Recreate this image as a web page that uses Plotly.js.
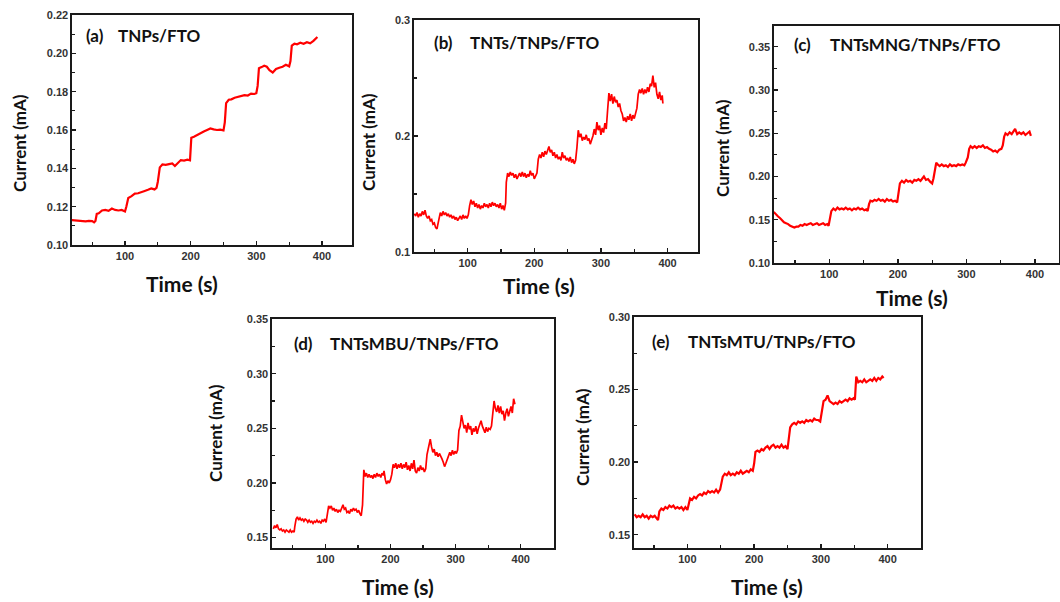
<!DOCTYPE html>
<html>
<head>
<meta charset="utf-8">
<script src="https://cdn.plot.ly/plotly-3.0.1.min.js"></script>
<style>html,body{margin:0;padding:0;background:#fff;}#chart{width:1060px;height:602px;}</style>
</head>
<body>
<div id="chart"></div>
<script>
// ---- Panel (a) TNPs/FTO ----
const tA = [19,25,30,35,40,45,50,53,55,57,60,65,70,75,80,85,90,95,100,102,105,110,115,120,125,130,135,140,145,148,150,153,157,162,167,172,176,180,185,190,195,199,201,205,210,215,220,225,230,235,240,245,250,252,254,258,262,267,272,277,282,287,292,297,300,302,304,308,312,316,320,325,330,335,340,345,350,352,354,358,362,367,372,377,382,387,390,393];
const iA = [0.1130,0.1128,0.1124,0.1126,0.1123,0.1126,0.1125,0.1118,0.1125,0.1162,0.1165,0.1180,0.1183,0.1178,0.1190,0.1183,0.1180,0.1183,0.1175,0.1200,0.1245,0.1255,0.1268,0.1270,0.1278,0.1282,0.1288,0.1295,0.1290,0.1298,0.1330,0.1405,0.1420,0.1418,0.1422,0.1425,0.1412,0.1428,0.1443,0.1440,0.1445,0.1442,0.1560,0.1565,0.1575,0.1585,0.1592,0.1600,0.1608,0.1603,0.1600,0.1602,0.1598,0.1640,0.1740,0.1758,0.1760,0.1768,0.1772,0.1775,0.1782,0.1780,0.1790,0.1788,0.1792,0.1830,0.1922,0.1928,0.1935,0.1930,0.1912,0.1900,0.1918,0.1925,0.1930,0.1940,0.1932,0.1960,0.2040,0.2050,0.2047,0.2055,0.2050,0.2058,0.2052,0.2065,0.2078,0.2085];

// ---- Panel (b) TNTs/TNPs/FTO ----
const tB = [20,22,24,26,28,30,32,34,36,38,40,42,44,46,48,50,52,54,55,57,59,61,63,65,67,69,71,73,75,77,79,81,83,85,87,89,91,93,95,97,99,101,103,105,107,109,111,113,115,117,119,121,123,125,127,129,131,133,135,137,139,141,143,145,147,149,151,153,155,157,158,160,162,164,166,168,170,172,174,176,178,180,182,184,186,188,190,192,194,196,198,200,202,204,206,208,210,212,214,216,218,220,222,224,226,228,230,232,234,236,238,240,242,244,246,248,250,252,254,256,258,260,262,264,266,268,270,272,274,276,278,280,282,284,286,288,290,292,294,296,298,300,302,304,306,308,310,312,314,316,318,320,322,324,326,328,330,332,334,336,338,340,342,344,346,348,350,352,354,356,358,360,362,364,366,368,370,372,374,376,378,380,382,384,386,388,390,392,393];
const iB = [0.133,0.131,0.134,0.130,0.133,0.131,0.135,0.132,0.136,0.131,0.129,0.131,0.127,0.128,0.124,0.125,0.121,0.120,0.123,0.128,0.134,0.131,0.135,0.132,0.134,0.131,0.133,0.130,0.132,0.129,0.131,0.128,0.130,0.127,0.129,0.131,0.128,0.132,0.129,0.131,0.129,0.132,0.140,0.145,0.141,0.144,0.139,0.142,0.138,0.141,0.137,0.140,0.138,0.142,0.139,0.141,0.138,0.142,0.139,0.143,0.140,0.142,0.139,0.141,0.138,0.142,0.137,0.140,0.136,0.142,0.160,0.168,0.165,0.169,0.166,0.168,0.164,0.167,0.163,0.166,0.168,0.165,0.169,0.165,0.168,0.164,0.167,0.165,0.170,0.166,0.168,0.163,0.165,0.168,0.180,0.184,0.181,0.186,0.182,0.187,0.184,0.188,0.191,0.186,0.188,0.183,0.186,0.181,0.184,0.180,0.182,0.179,0.186,0.181,0.183,0.179,0.181,0.178,0.182,0.177,0.180,0.176,0.179,0.190,0.205,0.199,0.202,0.196,0.199,0.197,0.201,0.196,0.198,0.193,0.196,0.200,0.206,0.201,0.212,0.205,0.209,0.201,0.207,0.203,0.211,0.206,0.222,0.237,0.230,0.236,0.228,0.234,0.229,0.231,0.225,0.228,0.222,0.219,0.213,0.216,0.212,0.217,0.214,0.219,0.213,0.218,0.215,0.220,0.224,0.236,0.240,0.237,0.241,0.236,0.240,0.237,0.242,0.238,0.245,0.243,0.252,0.242,0.246,0.236,0.232,0.238,0.231,0.235,0.228];

// ---- Panel (c) TNTsMNG/TNPs/FTO ----
const tC = [19,22,25,28,31,34,37,40,43,46,49,52,55,58,61,64,67,70,73,76,79,82,85,88,91,94,97,99,101,103,106,109,112,115,118,121,124,127,130,133,136,139,142,145,148,151,154,156,158,160,163,166,169,172,175,178,181,184,187,190,193,196,199,201,203,206,209,212,215,218,221,224,227,230,233,236,238,241,244,247,250,252,254,256,258,261,264,267,270,273,276,279,282,285,288,291,294,297,299,302,304,306,309,312,315,318,321,324,327,330,333,336,339,342,345,348,351,353,355,357,360,363,366,369,371,374,377,380,383,386,389,392,394];
const iC = [0.159,0.156,0.154,0.152,0.149,0.147,0.146,0.145,0.143,0.142,0.141,0.142,0.142,0.144,0.143,0.145,0.144,0.145,0.146,0.144,0.145,0.146,0.144,0.145,0.146,0.144,0.145,0.143,0.150,0.160,0.163,0.161,0.164,0.162,0.163,0.162,0.164,0.162,0.163,0.161,0.163,0.162,0.164,0.162,0.163,0.161,0.162,0.160,0.168,0.172,0.171,0.173,0.172,0.174,0.172,0.173,0.171,0.174,0.172,0.173,0.171,0.172,0.170,0.180,0.192,0.195,0.193,0.196,0.194,0.195,0.193,0.196,0.195,0.197,0.195,0.198,0.200,0.196,0.197,0.194,0.192,0.198,0.210,0.216,0.214,0.212,0.214,0.212,0.213,0.211,0.214,0.212,0.213,0.212,0.214,0.213,0.214,0.213,0.216,0.222,0.232,0.235,0.233,0.235,0.233,0.235,0.234,0.236,0.233,0.234,0.232,0.231,0.229,0.230,0.228,0.231,0.232,0.236,0.246,0.250,0.248,0.251,0.249,0.252,0.255,0.249,0.251,0.249,0.251,0.248,0.250,0.252,0.247];

// ---- Panel (d) TNTsMBU/TNPs/FTO ----
const tD = [20,22,24,26,28,30,32,34,36,38,40,42,44,46,48,50,52,53,55,57,59,61,63,65,67,69,71,73,75,77,79,81,83,85,87,89,91,93,95,97,99,101,103,105,107,109,111,113,115,117,119,121,123,125,127,129,131,133,135,137,139,141,143,145,147,149,151,153,155,157,158,159,161,163,165,167,169,171,173,175,177,179,181,183,185,187,189,190,192,194,196,198,200,202,204,206,208,210,212,214,216,218,220,222,224,226,228,230,232,234,236,238,240,242,244,246,248,250,252,254,256,258,260,261,263,265,267,269,271,273,275,277,279,281,283,285,287,289,291,293,295,297,299,301,303,305,307,309,311,313,315,317,319,321,323,325,327,329,331,333,335,337,339,341,343,345,347,349,351,353,355,357,359,361,363,365,367,369,371,373,375,377,379,381,383,385,387,389,391];
const iD = [0.158,0.161,0.159,0.162,0.158,0.157,0.158,0.156,0.157,0.155,0.157,0.156,0.155,0.157,0.155,0.156,0.155,0.160,0.167,0.169,0.166,0.168,0.166,0.167,0.165,0.167,0.166,0.164,0.166,0.164,0.165,0.163,0.165,0.164,0.166,0.164,0.165,0.163,0.166,0.165,0.167,0.164,0.172,0.179,0.177,0.179,0.175,0.177,0.174,0.176,0.173,0.175,0.174,0.177,0.180,0.176,0.177,0.173,0.174,0.172,0.176,0.174,0.177,0.175,0.176,0.173,0.175,0.172,0.170,0.180,0.205,0.212,0.206,0.209,0.205,0.208,0.205,0.207,0.204,0.208,0.205,0.209,0.206,0.208,0.205,0.209,0.207,0.211,0.203,0.199,0.202,0.200,0.203,0.208,0.217,0.214,0.218,0.213,0.217,0.214,0.218,0.213,0.217,0.214,0.219,0.212,0.216,0.211,0.218,0.213,0.221,0.211,0.209,0.214,0.211,0.216,0.212,0.214,0.210,0.213,0.226,0.232,0.236,0.240,0.233,0.228,0.231,0.225,0.228,0.224,0.227,0.225,0.222,0.219,0.215,0.218,0.221,0.224,0.228,0.225,0.230,0.226,0.229,0.227,0.230,0.248,0.252,0.262,0.255,0.250,0.253,0.246,0.255,0.249,0.252,0.244,0.250,0.247,0.252,0.245,0.250,0.254,0.257,0.252,0.248,0.246,0.251,0.247,0.250,0.249,0.252,0.262,0.275,0.268,0.265,0.271,0.264,0.270,0.263,0.266,0.257,0.264,0.268,0.261,0.266,0.270,0.264,0.277,0.272];

// ---- Panel (e) TNTsMTU/TNPs/FTO ----
const tE = [21,24,27,30,33,36,39,42,45,48,51,54,56,58,61,64,67,70,73,76,79,82,85,88,91,94,97,100,102,104,107,110,113,116,119,122,125,128,131,134,137,140,143,146,149,151,153,156,159,162,165,168,171,174,177,180,183,186,189,192,195,198,200,202,205,208,211,214,217,220,223,226,229,232,235,238,241,244,247,250,252,254,257,260,263,266,269,272,275,278,281,284,287,290,293,296,299,302,304,307,310,313,316,319,322,325,328,331,334,337,340,343,346,349,351,352,353,356,359,362,365,368,371,374,377,380,383,386,389,392,394];
const iE = [0.164,0.162,0.163,0.162,0.164,0.162,0.163,0.161,0.163,0.162,0.163,0.161,0.160,0.166,0.168,0.167,0.169,0.168,0.170,0.169,0.170,0.168,0.169,0.168,0.169,0.167,0.169,0.167,0.171,0.175,0.174,0.176,0.175,0.177,0.178,0.177,0.179,0.178,0.180,0.179,0.180,0.179,0.181,0.179,0.181,0.185,0.190,0.192,0.191,0.193,0.191,0.192,0.191,0.193,0.192,0.194,0.192,0.193,0.194,0.193,0.195,0.194,0.199,0.207,0.208,0.207,0.209,0.208,0.210,0.211,0.209,0.211,0.212,0.210,0.211,0.210,0.212,0.210,0.211,0.209,0.215,0.224,0.226,0.227,0.226,0.228,0.227,0.228,0.227,0.229,0.228,0.229,0.228,0.230,0.229,0.229,0.228,0.235,0.242,0.243,0.246,0.242,0.241,0.240,0.241,0.240,0.242,0.241,0.242,0.243,0.242,0.244,0.243,0.244,0.243,0.252,0.259,0.255,0.256,0.255,0.257,0.255,0.256,0.257,0.256,0.258,0.256,0.258,0.257,0.259,0.258];

const panelTags = ["(a)","(b)","(c)","(d)","(e)"];
const panelNames = ["TNPs/FTO","TNTs/TNPs/FTO","TNTsMNG/TNPs/FTO","TNTsMBU/TNPs/FTO","TNTsMTU/TNPs/FTO"];
const xTitle = "Time (s)";
const yTitle = "Current (mA)";

const W = 1060, H = 602;
const px = v => v / W;
const py = v => 1 - v / H;

// plot frames in pixels: [left, right, top, bottom]
const frames = [
  [72, 352, 15, 245],
  [414, 698, 20, 252],
  [774, 1059, 26, 263],
  [272, 554, 319, 548],
  [634, 921, 317, 548]
];
const xRanges = [[19.3,445.7],[19.5,445.7],[19.4,435],[18,451],[20,450]];
const yRanges = [[0.10,0.22],[0.10,0.30],[0.10,0.374],[0.1405,0.35],[0.1408,0.30]];
const yDtick = [0.02, 0.1, 0.05, 0.05, 0.05];
const yFmt = ['.2f','.1f','.2f','.2f','.2f'];

const series = [[tA,iA],[tB,iB],[tC,iC],[tD,iD],[tE,iE]];
const data = series.map((s, k) => ({
  x: s[0], y: s[1], type: 'scatter', mode: 'lines',
  line: {color: '#ff0000', width: (k===1||k===3) ? 1.7 : 2.2},
  xaxis: k===0 ? 'x' : 'x'+(k+1),
  yaxis: k===0 ? 'y' : 'y'+(k+1),
  showlegend: false, hoverinfo: 'skip'
}));

const tickFont = {family: 'Liberation Sans, Arial, sans-serif', size: 11, color: '#333', weight: 'bold'};
const layout = {
  width: W, height: H,
  margin: {l:0, r:0, t:0, b:0},
  paper_bgcolor: '#fff', plot_bgcolor: '#fff',
  showlegend: false,
  annotations: []
};

frames.forEach((f, k) => {
  const xn = k===0 ? 'xaxis' : 'xaxis'+(k+1);
  const yn = k===0 ? 'yaxis' : 'yaxis'+(k+1);
  const xa = k===0 ? 'x' : 'x'+(k+1);
  const ya = k===0 ? 'y' : 'y'+(k+1);
  layout[xn] = {
    domain: [px(f[0]), px(f[1])], anchor: ya,
    range: xRanges[k], tick0: 0, dtick: 100,
    showgrid: false, zeroline: false,
    showline: true, mirror: true, linecolor: '#1a1a1a', linewidth: 1.6,
    ticks: 'inside', ticklen: 4, tickwidth: 1.4, tickcolor: '#1a1a1a',
    minor: {ticks: 'inside', dtick: 50, tick0: 0, ticklen: 3, tickwidth: 1.2, tickcolor: '#1a1a1a', showgrid: false},
    tickfont: tickFont
  };
  layout[yn] = {
    domain: [py(f[3]), py(f[2])], anchor: xa,
    range: yRanges[k], tick0: 0, dtick: yDtick[k], tickformat: yFmt[k],
    showgrid: false, zeroline: false,
    showline: true, mirror: true, linecolor: '#1a1a1a', linewidth: 1.6,
    ticks: 'inside', ticklen: 4, tickwidth: 1.4, tickcolor: '#1a1a1a',
    minor: {ticks: 'inside', dtick: yDtick[k]/2, tick0: 0, ticklen: 3, tickwidth: 1.2, tickcolor: '#1a1a1a', showgrid: false},
    tickfont: tickFont
  };
});

const timeFont = {family: 'Lato, Open Sans, sans-serif', size: 21, color: '#111', weight: 'bold'};
const curFont = {family: 'Lato, Open Sans, sans-serif', size: 17, color: '#111', weight: 'bold'};
const labFont = {family: 'Lato, Open Sans, sans-serif', size: 17, color: '#111', weight: 'bold'};
const timePos = [[182,283],[539,285],[912,297],[398,586],[767,586]];
const curPos = [[20,143],[368,142],[722,148],[215,433],[582,437]];
const labPos = [[84,36,116],[432,42,468],[792,45,828],[292,343,328],[650,342,686]];

for (let k = 0; k < 5; k++) {
  layout.annotations.push({xref:'paper', yref:'paper', x: px(timePos[k][0]), y: py(timePos[k][1]),
    text: xTitle, showarrow:false, xanchor:'center', yanchor:'middle', borderpad: 0, font: timeFont});
  layout.annotations.push({xref:'paper', yref:'paper', x: px(curPos[k][0]), y: py(curPos[k][1]),
    text: yTitle, textangle: -90, showarrow:false, xanchor:'center', yanchor:'middle', font: curFont});
  layout.annotations.push({xref:'paper', yref:'paper', x: px(labPos[k][0]), y: py(labPos[k][1]),
    text: panelTags[k], showarrow:false, xanchor:'left', yanchor:'middle', font: labFont});
  layout.annotations.push({xref:'paper', yref:'paper', x: px(labPos[k][2]), y: py(labPos[k][1]),
    text: panelNames[k], showarrow:false, xanchor:'left', yanchor:'middle', font: labFont});
}

Plotly.newPlot('chart', data, layout, {displayModeBar: false, staticPlot: true});
</script>
</body>
</html>
